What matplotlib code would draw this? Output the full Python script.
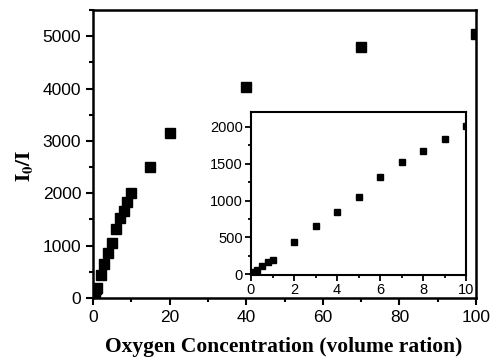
import numpy as np
import matplotlib
matplotlib.use("Agg")
import matplotlib.pyplot as plt
from matplotlib.ticker import MultipleLocator

# oxygen concentration (volume ratio) and I0/I
conc = [0.1, 0.3, 0.5, 0.8, 1, 2, 3, 4, 5, 6, 7, 8, 9, 10, 15, 20, 40, 70, 100]
ratio = [30, 60, 110, 170, 200, 440, 650, 850, 1050, 1320, 1520, 1670, 1830, 2010,
         2510, 3150, 4030, 4800, 5050]

# inset: low-concentration region
conc_low = conc[:14]
ratio_low = ratio[:14]

plt.rcParams['font.family'] = ['Liberation Sans', 'DejaVu Sans']
plt.rcParams['mathtext.fontset'] = 'stix'

fig = plt.figure(figsize=(4.91, 3.58), dpi=100)
ax = fig.add_axes([0.1894, 0.1676, 0.7801, 0.8044])
ax.plot(conc, ratio, 's', color='black', markersize=6.6, linestyle='none')
ax.set_xlim(0, 100)
ax.set_ylim(0, 5500)
ax.xaxis.set_major_locator(MultipleLocator(20))
ax.xaxis.set_minor_locator(MultipleLocator(10))
ax.yaxis.set_major_locator(MultipleLocator(1000))
ax.yaxis.set_minor_locator(MultipleLocator(500))
ax.tick_params(which='major', direction='out', length=5, width=1.5, labelsize=12.5)
ax.tick_params(which='minor', direction='out', length=3, width=1.5)
for s in ax.spines.values():
    s.set_linewidth(1.8)

ax.set_xlabel('Oxygen Concentration (volume ration)', family='Liberation Serif',
              fontweight='bold', fontsize=15.5)
ax.xaxis.set_label_coords(0.499, -0.135)
ax.set_ylabel(r'$\mathbf{I_0/I}$', fontsize=15)
ax.yaxis.set_label_coords(-0.152, 0.458)

ins = fig.add_axes([0.5112, 0.2318, 0.4379, 0.4553])
ins.plot(conc_low, ratio_low, 's', color='black', markersize=4.8, linestyle='none')
ins.set_xlim(0, 10)
ins.set_ylim(-10, 2200)
ins.xaxis.set_major_locator(MultipleLocator(2))
ins.xaxis.set_minor_locator(MultipleLocator(1))
ins.yaxis.set_major_locator(MultipleLocator(500))
ins.yaxis.set_minor_locator(MultipleLocator(250))
ins.tick_params(which='major', direction='out', length=4, width=1.3, labelsize=10.5, pad=2)
ins.tick_params(which='minor', direction='out', length=2.5, width=1.3)
for s in ins.spines.values():
    s.set_linewidth(1.5)

fig.savefig('out.png', dpi=100)
